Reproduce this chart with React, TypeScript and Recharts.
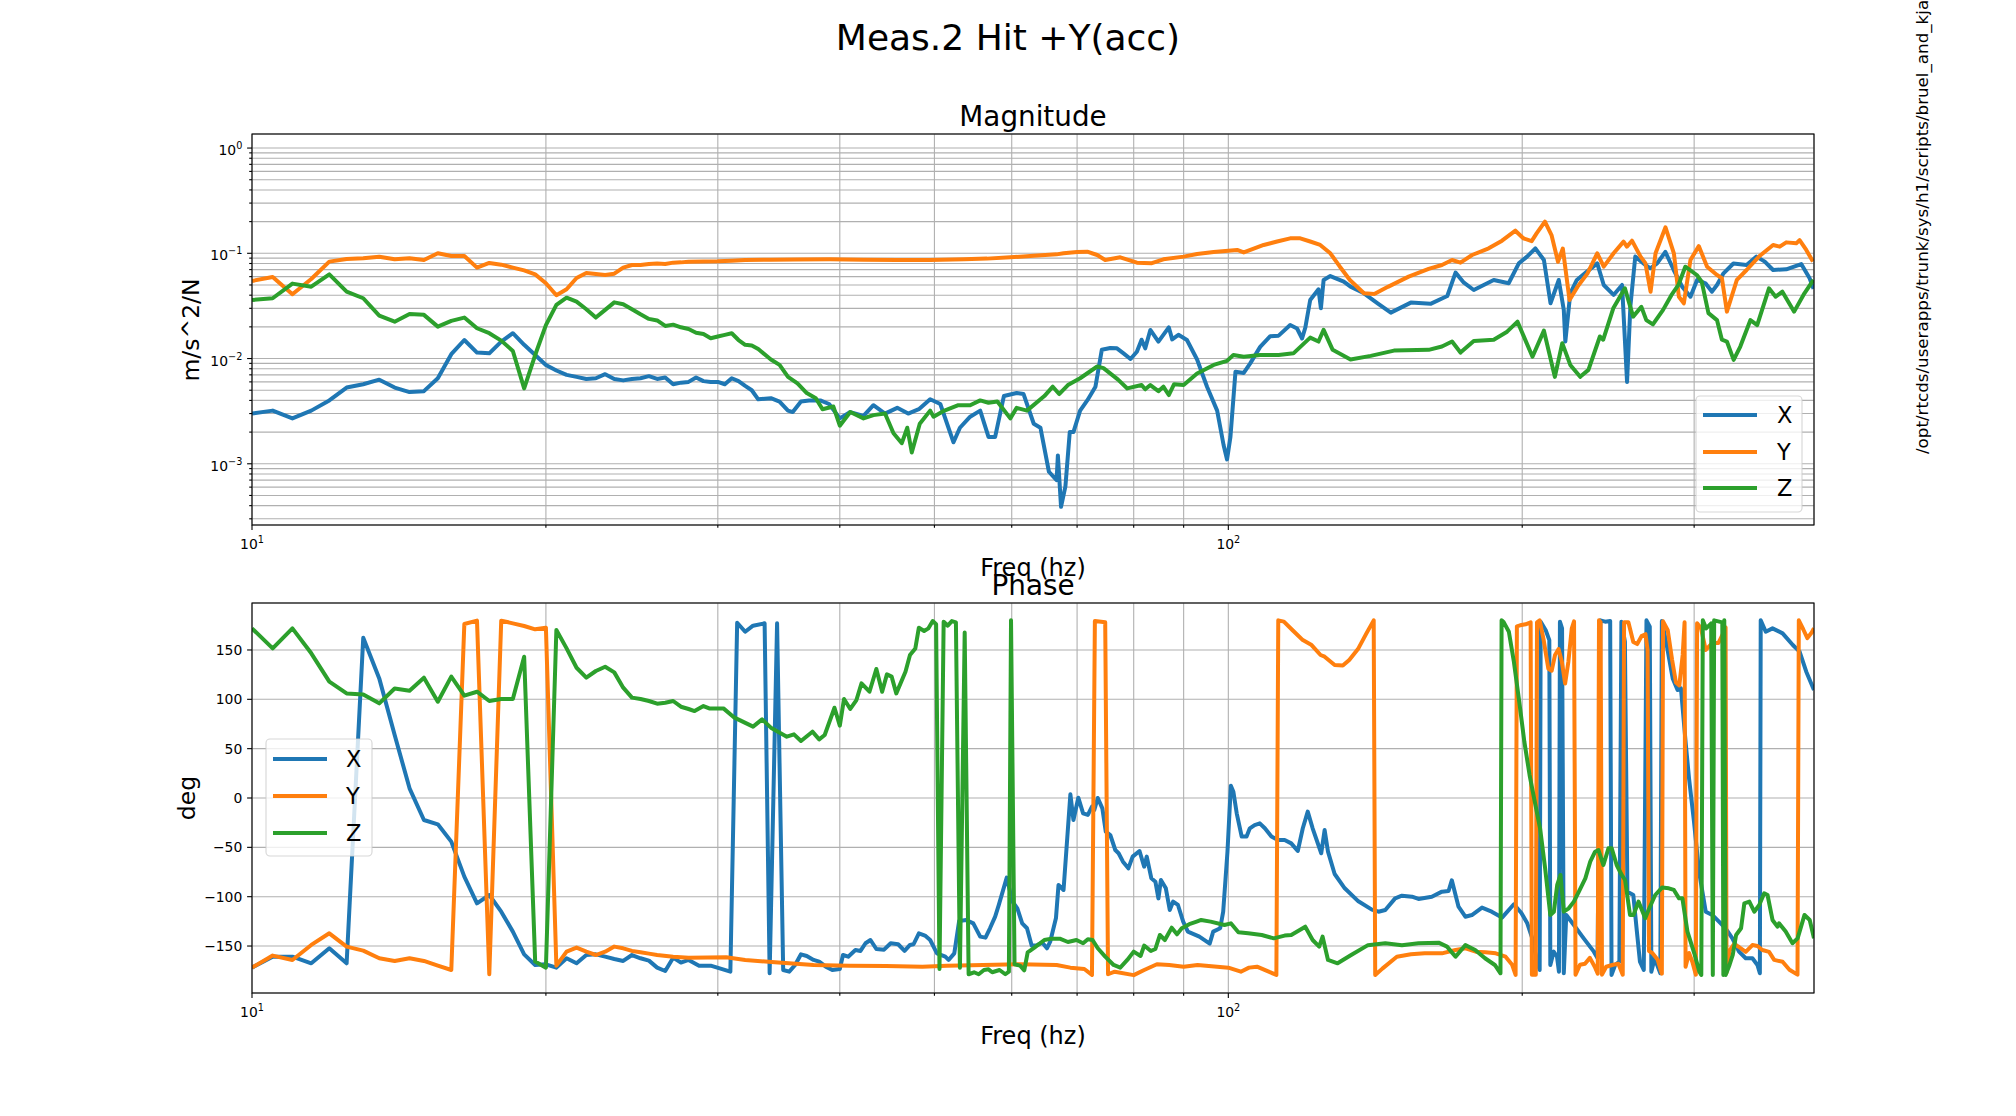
import React from 'react';
import { LineChart, Line, XAxis, YAxis, CartesianGrid } from 'recharts';

const FONT = '"DejaVu Sans", sans-serif';
const BLUE = '#1f77b4';
const ORANGE = '#ff7f0e';
const GREEN = '#2ca02c';

// ticks
const freqTicks = [10, 20, 30, 40, 50, 60, 70, 80, 90, 100, 200, 300];
const magTicks = [
  0.0003, 0.0004, 0.0005, 0.0006, 0.0007, 0.0008, 0.0009,
  0.001, 0.002, 0.003, 0.004, 0.005, 0.006, 0.007, 0.008, 0.009,
  0.01, 0.02, 0.03, 0.04, 0.05, 0.06, 0.07, 0.08, 0.09,
  0.1, 0.2, 0.3, 0.4, 0.5, 0.6, 0.7, 0.8, 0.9, 1,
];
const phaseTicks = [-150, -100, -50, 0, 50, 100, 150];

// magnitude, [freq Hz, m/s^2/N]
const magX: [number, number][] = [
  [10, 0.003], [10.5, 0.0032], [11, 0.0027], [11.5, 0.0032], [12, 0.004], [12.5, 0.0053], [13, 0.0057],
  [13.5, 0.0063], [14, 0.0053], [14.5, 0.0048], [15, 0.0049], [15.5, 0.0065], [16, 0.011], [16.5, 0.015],
  [17, 0.0114], [17.5, 0.0112], [18, 0.0145], [18.5, 0.0174], [19, 0.0135], [19.5, 0.0108], [20, 0.0087],
  [20.5, 0.0077], [21, 0.007], [21.5, 0.0067], [22, 0.0064], [22.5, 0.0065], [23, 0.0071], [23.5, 0.0064],
  [24, 0.0062], [24.5, 0.0064], [25, 0.0065], [25.5, 0.0068], [26, 0.0064], [26.5, 0.0066], [27, 0.0057],
  [27.5, 0.0059], [28, 0.006], [28.5, 0.0066], [29, 0.0061], [29.5, 0.006], [30, 0.006], [30.5, 0.0057],
  [31, 0.0065], [31.5, 0.0061], [32, 0.0055], [32.5, 0.005], [33, 0.0041], [34, 0.0042], [34.7, 0.0039],
  [35.4, 0.0032], [35.8, 0.0031], [36.5, 0.0039], [37.2, 0.004], [38.2, 0.004], [39, 0.0037], [40, 0.0027],
  [41, 0.0031], [42.3, 0.00285], [43.3, 0.0036], [44.5, 0.003], [45.8, 0.0034], [47, 0.003], [48.2, 0.0033],
  [49.5, 0.0041], [50.7, 0.0037], [52.3, 0.0016], [53.1, 0.0022], [54.4, 0.0028], [55.7, 0.0032],
  [56.8, 0.0018], [57.7, 0.0018], [58.9, 0.0044], [60.7, 0.0047], [61.7, 0.0046], [63.2, 0.0024],
  [64.2, 0.0022], [65.5, 0.00084], [66.7, 0.0007], [66.9, 0.0012], [67.4, 0.00039], [68.1, 0.00061],
  [68.8, 0.002], [69.4, 0.002], [70.5, 0.0032], [71.7, 0.004], [73.1, 0.0054], [74.2, 0.0121],
  [75.7, 0.0126], [76.9, 0.0125], [78.1, 0.0112], [79.4, 0.0099], [80.6, 0.0116], [81.5, 0.0151],
  [82.2, 0.0125], [83.2, 0.0187], [84.8, 0.0145], [86.9, 0.0198], [87.6, 0.0152], [88.9, 0.0168],
  [90.7, 0.015], [92.9, 0.0098], [95.1, 0.0054], [97.4, 0.0032], [98.9, 0.0015], [99.7, 0.0011],
  [100.5, 0.0018], [101.7, 0.0075], [103.7, 0.0073], [105.3, 0.009], [107.8, 0.0129], [110.4, 0.0163],
  [112.6, 0.0165], [115.7, 0.0208], [117.6, 0.0193], [119, 0.0155], [119.9, 0.0196], [121.3, 0.036],
  [123.7, 0.0455], [124.4, 0.03], [125.2, 0.0557], [127.2, 0.0608], [131.3, 0.0538], [133.4, 0.0482],
  [137.7, 0.0417], [142.2, 0.0335], [146.7, 0.0273], [153.8, 0.034], [161.1, 0.0331], [167.6, 0.0393],
  [170.9, 0.0655], [174.3, 0.0526], [178.4, 0.0448], [187, 0.0558], [193.7, 0.0519], [198.4, 0.0803],
  [202.3, 0.0929], [206.3, 0.1115], [210.5, 0.0863], [213.8, 0.0335], [218, 0.0558], [220.6, 0.029],
  [221.4, 0.0145], [224, 0.0417], [227.5, 0.0558], [233, 0.067], [238.7, 0.0802], [242.4, 0.05],
  [248.1, 0.0402], [253.1, 0.05], [256.1, 0.006], [258.1, 0.0311], [261.1, 0.093], [267.4, 0.0774],
  [270.6, 0.072], [274.9, 0.0802], [280.3, 0.103], [285.9, 0.0694], [291.6, 0.0482], [297.4, 0.0387],
  [302.1, 0.0558], [308.1, 0.0519], [312.9, 0.0432], [316.6, 0.05], [321.5, 0.0645], [329.1, 0.08],
  [339.5, 0.0774], [347.5, 0.093], [354.4, 0.0833], [361.4, 0.0694], [372.8, 0.0705], [386.2, 0.0791],
  [393.9, 0.058], [397.6, 0.046],
];

const magY: [number, number][] = [
  [10, 0.0546], [10.5, 0.0596], [11, 0.0408], [11.5, 0.057], [12, 0.0833], [12.5, 0.0883], [13, 0.0896],
  [13.5, 0.0929], [14, 0.0877], [14.5, 0.0896], [15, 0.0863], [15.5, 0.1], [16, 0.0942], [16.5, 0.0942],
  [17, 0.0731], [17.5, 0.081], [18, 0.078], [18.5, 0.0731], [19, 0.0689], [19.5, 0.063], [20, 0.0519],
  [20.5, 0.0399], [21, 0.0455], [21.5, 0.0582], [22, 0.065], [22.5, 0.0636], [23, 0.0622], [23.5, 0.064],
  [24, 0.0731], [24.5, 0.0774], [25, 0.0774], [25.5, 0.0791], [26, 0.0799], [26.5, 0.0791], [27, 0.0815],
  [27.5, 0.082], [28, 0.0833], [29, 0.0836], [30, 0.0839], [31, 0.085], [32, 0.0865], [34, 0.087],
  [36, 0.0875], [39.1, 0.0877], [42.3, 0.087], [45.8, 0.0865], [49.5, 0.0865], [53.6, 0.0877],
  [56.6, 0.089], [59.8, 0.0916], [63.2, 0.0947], [66.7, 0.0977], [67.8, 0.1], [70, 0.1028], [71.7, 0.1035],
  [73.4, 0.0963], [74.8, 0.0865], [77.5, 0.0916], [80.6, 0.0815], [83.5, 0.0806], [85.8, 0.0877],
  [90, 0.093], [92.9, 0.0984], [96.6, 0.103], [102.1, 0.1075], [103.7, 0.1019], [108.7, 0.12],
  [112.2, 0.1294], [115.7, 0.1387], [118.5, 0.1387], [121.3, 0.1294], [124.2, 0.12], [127.2, 0.1],
  [130.1, 0.0746], [133.2, 0.0558], [137.7, 0.0417], [141.1, 0.041], [145.7, 0.048], [153, 0.06],
  [160.4, 0.071], [165.5, 0.0774], [169.5, 0.0863], [172.9, 0.0815], [177.7, 0.0963], [184.8, 0.1115],
  [190.7, 0.1318], [196.8, 0.164], [200.5, 0.139], [204.5, 0.1306], [206.9, 0.1548], [211, 0.2],
  [214.3, 0.1492], [217.6, 0.0832], [220.1, 0.111], [223.6, 0.036], [227.9, 0.0482], [233.3, 0.0645],
  [238.7, 0.1], [242.4, 0.0746], [248.1, 0.1], [254, 0.129], [256, 0.1156], [259.1, 0.1318],
  [264.4, 0.093], [267.4, 0.0806], [270.7, 0.0432], [273.9, 0.1], [280.4, 0.1766], [286, 0.1],
  [289.4, 0.0387], [292.8, 0.0335], [297.4, 0.0863], [303.3, 0.117], [309.3, 0.0746], [316.6, 0.0622],
  [320.3, 0.058], [324.1, 0.0279], [331.8, 0.0558], [339.5, 0.0694], [350.3, 0.0948], [361.4, 0.12],
  [367.1, 0.1156], [372.8, 0.127], [381.7, 0.1243], [384.7, 0.1334], [390.8, 0.1075], [397, 0.0834],
];

const magZ: [number, number][] = [
  [10, 0.036], [10.5, 0.0374], [11, 0.0515], [11.5, 0.0482], [12, 0.063], [12.5, 0.0432], [13, 0.0374],
  [13.5, 0.0256], [14, 0.0224], [14.5, 0.0265], [15, 0.026], [15.5, 0.0201], [16, 0.0228], [16.5, 0.0245],
  [17, 0.0194], [17.5, 0.0174], [18, 0.0148], [18.5, 0.0118], [19, 0.0052], [19.5, 0.0108], [20, 0.0208],
  [20.5, 0.0323], [21, 0.0379], [21.5, 0.0347], [22, 0.0294], [22.5, 0.0245], [23, 0.029], [23.5, 0.0342],
  [24, 0.0328], [24.5, 0.0294], [25, 0.0263], [25.5, 0.0238], [26, 0.023], [26.5, 0.0204], [27, 0.021],
  [27.5, 0.0198], [28, 0.0191], [28.5, 0.0176], [29, 0.0171], [29.5, 0.0156], [30, 0.0162], [30.5, 0.0168],
  [31, 0.0174], [31.5, 0.015], [32, 0.0135], [32.5, 0.0133], [33, 0.0123], [34, 0.0098], [34.7, 0.0087],
  [35.4, 0.0067], [36.2, 0.0058], [37, 0.0047], [37.8, 0.0042], [38.4, 0.0033], [39.4, 0.0035],
  [40, 0.0023], [41, 0.0031], [42.3, 0.0027], [43.3, 0.0029], [44.5, 0.003], [45.4, 0.00195],
  [46.3, 0.00157], [46.9, 0.0022], [47.4, 0.00128], [48.3, 0.0024], [49.5, 0.0032], [49.9, 0.0028],
  [51.2, 0.0032], [52.9, 0.0036], [54.4, 0.0036], [55.7, 0.004], [56.8, 0.0038], [58, 0.0039],
  [59.8, 0.0027], [60.7, 0.0034], [62.2, 0.0032], [64.8, 0.0044], [66.1, 0.0054], [67.1, 0.0046],
  [68.5, 0.0056], [70.5, 0.0065], [73.4, 0.0084], [74.5, 0.0081], [77.1, 0.0063], [78.8, 0.0052],
  [81.5, 0.0056], [82.2, 0.0051], [83.2, 0.0056], [84.8, 0.0049], [85.8, 0.0054], [86.9, 0.0045],
  [88, 0.0057], [90, 0.0056], [92.9, 0.0072], [96.6, 0.0087], [99.7, 0.0095], [101.2, 0.0108],
  [103.7, 0.0104], [107.8, 0.0108], [112.6, 0.0108], [116.6, 0.0112], [121.3, 0.0158], [123.7, 0.0145],
  [125.2, 0.0187], [127.9, 0.0121], [133.4, 0.0098], [139.9, 0.0106], [147.8, 0.0119], [160.4, 0.0121],
  [165.5, 0.013], [169.5, 0.0145], [172.9, 0.0114], [178.4, 0.0147], [187, 0.0151], [193, 0.018],
  [197.8, 0.0224], [204.9, 0.0104], [210.5, 0.0184], [216, 0.0067], [219.8, 0.014], [224, 0.0087],
  [229.3, 0.0067], [233.8, 0.0078], [240.2, 0.0162], [242.1, 0.0151], [247.9, 0.03], [254.8, 0.0465],
  [259.8, 0.025], [264.9, 0.031], [268, 0.0232], [272.2, 0.0211], [278.8, 0.029], [284.3, 0.04],
  [289.1, 0.05], [293.8, 0.0746], [301.9, 0.0622], [305.4, 0.0538], [310.3, 0.027], [316.6, 0.0232],
  [320.3, 0.0151], [324.1, 0.0145], [329.3, 0.0097], [334.5, 0.013], [342.6, 0.0232], [348.1, 0.0208],
  [357.9, 0.0465], [363.6, 0.0387], [369.4, 0.0432], [379.8, 0.0279], [389.1, 0.0417], [397.5, 0.0558],
];

// phase, [freq Hz, deg]
const phaseX: [number, number][] = [
  [10, -171.9], [10.5, -160.8], [11, -160.8], [11.5, -167.5], [12, -152.3], [12.5, -167.5], [13, 162.4],
  [13.5, 121.2], [14, 63.8], [14.5, 9.8], [15, -22.3], [15.5, -26.7], [16, -44.2], [16.5, -79.7],
  [17, -106.7], [17.5, -98.3], [18, -115.2], [18.5, -135.4], [19, -158.4], [19.5, -169.2], [20, -168.5],
  [20.5, -171.9], [21, -162.4], [21.5, -167.5], [22, -159.1], [22.5, -158.4], [23, -160.8], [23.5, -163.1],
  [24, -165.1], [24.5, -159.1], [25, -162.4], [25.5, -164.8], [26, -171.9], [26.5, -175.3], [27, -161.8],
  [27.5, -166.8], [28, -164.1], [28.7, -169.9], [29.5, -169.9], [30.9, -176], [31.4, 177.6], [32, 168.5],
  [32.6, 174.6], [33.5, 177], [33.9, -177.6], [34.5, 177], [35, -174.3], [35.5, -176], [36, -169.2],
  [36.5, -158.4], [37, -160.1], [37.6, -164.1], [38.1, -165.8], [38.7, -170.9], [39.3, -174.3],
  [40, -173.3], [40.3, -159.1], [40.8, -160.8], [41.5, -154], [42, -155], [42.5, -147.2], [43, -143.9],
  [43.6, -153], [44.4, -153.7], [45.1, -147.2], [45.9, -148.2], [46.6, -154.9], [47.2, -148.9],
  [47.6, -148.2], [48.2, -137.1], [48.9, -139.4], [49.5, -143.9], [50.3, -157.4], [51.3, -160.8],
  [51.7, -164.1], [52.4, -157.4], [53, -124.6], [53.9, -123.6], [54.8, -127], [55.7, -140.5],
  [56.4, -141.5], [57, -132], [57.7, -120.2], [58.2, -108.4], [59.3, -80.7], [60.1, -105], [60.8, -111.8],
  [61.5, -127], [62.2, -132], [62.9, -149.8], [63.7, -149.1], [64.5, -146.6], [65.2, -152.3],
  [65.7, -145.6], [66.6, -121.6], [67, -88.1], [67.8, -93.2], [68.9, 3.7], [69.4, -22.3], [70.2, 0.3],
  [71, -15.5], [71.8, -17.2], [72.5, -8.8], [72.9, -12.2], [73.5, 0], [74.3, -10.5], [74.9, -34.1],
  [75.7, -37.5], [76.6, -52.7], [77.2, -56], [78, -64.5], [79, -71.3], [79.8, -59.4], [81.1, -53.7],
  [82, -69.6], [82.5, -59.4], [83.4, -81.4], [84.2, -84.8], [84.8, -101.7], [85.3, -83.1], [86.3, -91.5],
  [87.1, -113.5], [87.8, -105], [88.8, -108.4], [89.9, -125.3], [90.9, -135.4], [93.4, -140.5],
  [95.7, -147.5], [96.5, -135.4], [98.1, -132], [98.8, -115.2], [99.8, -54.4], [100.6, 12.5],
  [101.2, 6.4], [102, -15.5], [103.2, -39], [104.4, -39], [105.2, -30.7], [106.4, -27.4], [107.7, -25.7],
  [109, -30.7], [110.7, -39], [112.4, -42.6], [114.2, -42.6], [116, -46], [117.8, -53.7], [119.2, -30.7],
  [120.6, -13.8], [122, -30.7], [124.5, -56], [125.5, -32.4], [126.5, -54.4], [128.5, -77], [131.6, -91.5],
  [135.9, -104.7], [140.3, -113.1], [142.5, -115.2], [144.8, -113.5], [148.2, -101.7], [150.6, -99],
  [154.2, -100], [156.6, -102.3], [161.6, -100], [165.5, -94.9], [168.1, -94.2], [169.4, -83.4],
  [172.1, -110.1], [174.9, -120.3], [177.6, -118.6], [181.9, -111.1], [186.1, -115.2], [190.7, -121.2],
  [196.1, -107.7], [199.6, -116.6], [202.4, -127], [204.8, -142.2], [207.1, -165.8], [208.4, -174.3],
  [208.9, 178.7], [211.4, 170], [213.2, 160], [213.7, -169.2], [215.4, -155.7], [217.1, -160.8],
  [218.1, -176], [218.6, 178.7], [219.7, 171.9], [220.6, -177.6], [221.9, -118.5], [225.9, -128.7],
  [231.2, -142.2], [236.8, -155.7], [238.9, -162.4], [240.5, 180], [243.2, 178.7], [246.1, 179.3],
  [246.9, -179.3], [249, -169.2], [251.5, -165.8], [252.7, 178.7], [254.8, 158.4], [256.3, -94.9],
  [259.9, -98.3], [261.9, -132], [264, -165.8], [266.4, -174.3], [268.1, 180], [270.2, 173.6],
  [271.2, -176], [273.3, -162.4], [277, -177.6], [278, 179.3], [280.8, 158.4], [285.2, 121.2],
  [288.5, 109.4], [290.8, 111.1], [294.2, 53.7], [296.4, 19.9], [299.9, -24], [303.5, -74.6],
  [308.3, -115.2], [313.1, -118.5], [318.1, -125.3], [323.1, -132], [328.3, -142.2], [333.5, -155.7],
  [338.8, -162.4], [344.2, -162.4], [348.3, -169.2], [350.3, -177.6], [351, 180], [355.2, 168.5],
  [360.9, 171.9], [369.6, 166.8], [378.6, 155], [384.7, 148.3], [390.8, 128], [398, 109.4],
];

const phaseY: [number, number][] = [
  [10, -171.9], [10.5, -159.7], [11, -164.1], [11.5, -148.9], [12, -137.1], [12.5, -150.6], [13, -154.7],
  [13.5, -162.4], [14, -165.1], [14.5, -162.4], [15, -165.1], [15.5, -169.9], [16, -174.3], [16.5, 176.3],
  [17, 179.7], [17.5, -178.6], [18, 179.7], [18.5, 177], [19, 174.3], [19.5, 170.9], [20, 172.6],
  [20.5, -169.9], [21, -155.7], [21.5, -151.6], [22, -155.7], [22.5, -159.1], [23, -155.7], [23.5, -150.6],
  [24, -152.3], [24.5, -155], [25, -156.4], [25.5, -157.7], [26, -159.1], [27, -160.8], [28, -161.8],
  [30.6, -161.4], [32, -164.1], [34.6, -166.8], [37.6, -169.2], [40.9, -169.9], [44.6, -170.2],
  [48.6, -170.9], [51.5, -169.9], [56.1, -169.2], [61.2, -168.5], [66.7, -169.2], [68.9, -171.9],
  [71.2, -173.3], [72.5, -179.3], [73, 179.3], [74.8, 178], [75.3, -178.6], [76.5, -176], [80, -179.5],
  [82, -174.3], [84.5, -168.5], [87, -169.2], [90, -170.9], [93, -169.2], [100, -171.9], [103, -176],
  [105, -171.9], [107, -170.9], [110, -176], [112, -179.3], [112.5, 180], [114, 178.7], [116.3, 170.2],
  [119.2, 160], [121.7, 155], [124.3, 144.9], [125.5, 143.2], [128.5, 134.8], [131, 134.2], [133, 139.9],
  [135.9, 151.6], [138.5, 166.8], [140.9, 180], [141.4, -179.3], [143.8, -172.9], [148.8, -160.8],
  [153.8, -158.4], [158.9, -157.4], [165.5, -157.4], [170.9, -154], [175, -152.3], [179.2, -155.7],
  [183.4, -156.4], [187.9, -157.4], [192.3, -160.8], [195.3, -169], [196.9, -179.3], [197.5, 174],
  [199, 175], [201.6, 176], [204, 178], [204.6, -179], [206.5, -179], [207.1, 178], [208.4, 180],
  [210.3, 161], [212.7, 131], [214.4, 129], [216.1, 145], [217.9, 151], [219.6, 138], [221.3, 116],
  [223, 138], [224.8, 172], [226, 179], [226.8, -179], [229.2, -169], [231.9, -168], [234.6, -162],
  [237.3, -171], [239, -178], [239.7, 180], [240.6, 178], [241.4, -179], [243.8, -171], [247.8, -169],
  [250.9, -168], [253.5, -179], [254.3, 178], [256.9, 178], [259.9, 158], [262.3, 156], [265, 164],
  [267.5, 166], [268.8, 150], [269.7, -155], [271.8, -157], [275.3, -164], [278, -178], [278.8, 179],
  [281.9, 170], [284.8, 140], [287.4, 117], [289.7, 114], [292, 145], [293.3, 178], [294, -171],
  [296.4, -157], [298.7, -166], [301.2, -179], [302.1, 177], [304.9, 172], [308.3, 150], [313.1, 157],
  [317.6, 157], [320.6, 165], [323.1, 173], [323.8, -177], [326, -155], [329.6, -148], [333.5, -151],
  [338.8, -156], [344.2, -149], [348.3, -150], [352.4, -154], [358, -156], [362.3, -164], [369.6, -166],
  [375.6, -174], [382.8, -179], [384, 180], [388, 171], [391.8, 162], [396, 168], [398, 172],
];

const phaseZ: [number, number][] = [
  [10, 171.9], [10.5, 151.6], [11, 171.9], [11.5, 146.6], [12, 117.9], [12.5, 106], [13, 105],
  [13.5, 95.9], [14, 111], [14.5, 108.7], [15, 121.9], [15.5, 97.6], [16, 123], [16.5, 103.7],
  [17, 107.7], [17.5, 98.3], [18, 100.3], [18.5, 100.3], [19, 143.2], [19.5, -165.8], [20, -171.9],
  [20.5, 170.2], [21, 151.6], [21.5, 132], [22, 121.9], [22.5, 128.7], [23, 133], [23.5, 127.3],
  [24, 111.8], [24.5, 101.7], [25, 100.3], [25.5, 98.3], [26, 95.6], [26.5, 96.6], [27, 98.3],
  [27.5, 92.5], [28, 90.2], [28.4, 88.1], [29, 93.2], [29.4, 90.8], [30.4, 90.8], [31.2, 81.4],
  [32.6, 72.3], [33.3, 79.7], [34, 71.3], [35.3, 62.1], [35.9, 64.5], [36.5, 57.8], [37.5, 67.2],
  [38.1, 59.4], [38.6, 63.8], [39.5, 91.5], [40, 73.3], [40.4, 100.3], [41, 90.2], [41.6, 99.3],
  [42.1, 116.2], [42.9, 107.7], [43.6, 130.7], [44.2, 107.7], [44.7, 125.3], [45.2, 123], [45.7, 106],
  [46.7, 128], [47.2, 144.9], [47.8, 151.6], [48.2, 172.6], [48.8, 169.2], [49.3, 171.9], [49.8, 179.3],
  [50.2, 176], [50.6, -173.3], [51.1, 178.7], [51.6, 174.6], [52.1, 179.3], [52.6, 178], [53.1, -171.9],
  [53.7, 167.8], [54.2, -178.6], [54.9, -176.6], [55.5, -178.6], [56.2, -174.3], [56.8, -173.6],
  [57.3, -176.6], [58.3, -174.3], [59.1, -178.6], [59.6, -176], [59.9, 180], [60.4, -168.5],
  [61.2, -169.9], [61.8, -174.6], [62.3, -156.4], [63.3, -151.6], [64.8, -143.9], [65.9, -142.5],
  [67.2, -142.5], [68.5, -145.9], [69.9, -143.9], [71, -147.2], [71.8, -143.2], [72.6, -143.9],
  [73.5, -152.3], [74.8, -160.8], [76.3, -169.2], [77.5, -171.9], [78.8, -164.1], [80, -155.7],
  [81.3, -160.1], [82, -149.5], [83.3, -155], [84.2, -153], [85.1, -138.8], [86.1, -143.9],
  [87.5, -131.4], [88.6, -138.1], [89.6, -132], [91.2, -127.9], [92.8, -125.3], [93.8, -123.6],
  [95.9, -125.3], [99.1, -128.7], [100.6, -127], [102.4, -136.1], [104.8, -137.1], [108.2, -138.8],
  [111.3, -142.2], [114.2, -139.4], [116, -138.8], [119.9, -130.4], [122, -143.9], [123.9, -150.6],
  [124.9, -140.5], [126.5, -164.1], [129.4, -167.5], [133.6, -159.1], [139, -149.1], [144.8, -147.2],
  [150.6, -149.1], [156.6, -147.2], [164.2, -146.6], [167.5, -150.6], [170.9, -160.8], [174.9, -149.1],
  [179, -154], [183.2, -162.4], [187.5, -169.2], [190, -177.6], [190.5, 180], [191.5, 178],
  [193.8, 168.5], [196.1, 138.1], [198.6, 97.6], [201, 57.1], [203.5, 23.3], [206, -3.7], [208.6, -30.7],
  [211.1, -71.3], [213.7, -118.5], [215.5, -115.2], [217.2, -88.1], [218.9, -78], [220.6, -115.2],
  [223.2, -111.8], [225.9, -105], [228.6, -94.9], [232.1, -81.4], [234.8, -64.5], [237.5, -54.4],
  [239.4, -52.7], [242.2, -67.9], [245.1, -51], [247, -51], [249.9, -67.9], [252.9, -78], [254.9, -83.1],
  [257.9, -118.5], [260, -118.5], [263.1, -105], [267.3, -121.9], [269.4, -113.5], [273.7, -98.3],
  [278.1, -90.8], [282.6, -91.5], [286, -93.2], [289.5, -101.7], [291.8, -101.7], [295.3, -135.4],
  [300.1, -157.4], [303.7, -176], [305.1, -179.3], [306.2, 180], [308.6, 171.9], [312.3, 177],
  [313.5, -179.3], [314.5, 180], [320.6, 178], [321.4, -179.3], [322.1, 180], [323.1, -179.3],
  [326.1, -169.2], [328.6, -159], [331.2, -138.8], [335.1, -132], [337.7, -106.7], [341.7, -105],
  [345.7, -115.2], [349.8, -108.4], [353.9, -96.6], [356.7, -98.3], [360.9, -123.6], [365.1, -130.4],
  [366.5, -127], [372.3, -135.4], [378.3, -147.2], [382.9, -142.2], [389.2, -118.5], [394, -123.6],
  [398, -142.2],
];

const rows = (pts: [number, number][]) => pts.map(([f, v]) => ({ f, v }));

const TICK_FS = 13.9;
const SUP_FS = 9.7;

function FreqTick(props: any) {
  const { x, y, payload } = props;
  const v = payload.value as number;
  const major = v === 10 || v === 100;
  return (
    <g>
      <line x1={x} x2={x} y1={y} y2={y + (major ? 4.9 : 2.8)} stroke="#000" strokeWidth={1.1} />
      {major && (
        <text x={x} y={y + 23.5} textAnchor="middle" fontFamily={FONT} fontSize={TICK_FS} fill="#000">
          10<tspan dy={-6} fontSize={SUP_FS}>{Math.round(Math.log10(v))}</tspan>
        </text>
      )}
    </g>
  );
}

function MagTick(props: any) {
  const { x, y, payload } = props;
  const v = payload.value as number;
  const e = Math.log10(v);
  const major = Math.abs(e - Math.round(e)) < 1e-6;
  const exp = Math.round(e);
  return (
    <g>
      <line x1={x - (major ? 4.9 : 2.8)} x2={x} y1={y} y2={y} stroke="#000" strokeWidth={1.1} />
      {major && (
        <text x={x - 9.7} y={y + 7} textAnchor="end" fontFamily={FONT} fontSize={TICK_FS} fill="#000">
          10<tspan dy={-6} fontSize={SUP_FS}>{exp < 0 ? `\u2212${-exp}` : `${exp}`}</tspan>
        </text>
      )}
    </g>
  );
}

function PhaseTick(props: any) {
  const { x, y, payload } = props;
  const v = payload.value as number;
  return (
    <g>
      <line x1={x - 4.9} x2={x} y1={y} y2={y} stroke="#000" strokeWidth={1.1} />
      <text x={x - 9.7} y={y + 5} textAnchor="end" fontFamily={FONT} fontSize={TICK_FS} fill="#000">
        {v < 0 ? `\u2212${-v}` : `${v}`}
      </text>
    </g>
  );
}

function LegendBox({ x, y, w, h, lineX, textX, rowY }: any) {
  const items = [
    { label: 'X', color: BLUE },
    { label: 'Y', color: ORANGE },
    { label: 'Z', color: GREEN },
  ];
  return (
    <g>
      <rect x={x} y={y} width={w} height={h} rx={4} ry={4} fill="#fff" fillOpacity={0.8} stroke="#cccccc" strokeOpacity={0.8} strokeWidth={1.1} />
      {items.map((it, i) => (
        <g key={it.label}>
          <line x1={lineX} x2={lineX + 54} y1={rowY[i]} y2={rowY[i]} stroke={it.color} strokeWidth={4} />
          <text x={textX} y={rowY[i] + 8} fontFamily={FONT} fontSize={22.5} fill="#000">
            {it.label}
          </text>
        </g>
      ))}
    </g>
  );
}

const lineProps = {
  dataKey: 'v',
  type: 'linear' as const,
  dot: false,
  strokeWidth: 4,
  strokeLinejoin: 'round' as const,
  isAnimationActive: false,
};

export default function App() {
  return (
    <div style={{ position: 'absolute', left: 0, top: 0, width: 2016, height: 1116, background: '#fff' }}>
      <div style={{ position: 'absolute', left: 0, top: 0 }}>
        <LineChart width={2016} height={560} margin={{ top: 134, right: 202, bottom: 0, left: 0 }}>
          <CartesianGrid stroke="#b0b0b0" strokeWidth={1.1} />
          <XAxis
            dataKey="f"
            type="number"
            scale="log"
            domain={[10, 398]}
            allowDataOverflow
            ticks={freqTicks}
            interval={0}
            height={35}
            tickSize={0}
            tickMargin={0}
            tickLine={false}
            axisLine={false}
            tick={FreqTick}
          />
          <YAxis
            type="number"
            scale="log"
            domain={[0.000262, 1.36]}
            allowDataOverflow
            ticks={magTicks}
            interval={0}
            width={252}
            tickSize={0}
            tickMargin={0}
            tickLine={false}
            axisLine={false}
            tick={MagTick}
          />
          <Line {...lineProps} data={rows(magX)} name="X" stroke={BLUE} />
          <Line {...lineProps} data={rows(magY)} name="Y" stroke={ORANGE} />
          <Line {...lineProps} data={rows(magZ)} name="Z" stroke={GREEN} />
        </LineChart>
      </div>
      <div style={{ position: 'absolute', left: 0, top: 560 }}>
        <LineChart width={2016} height={556} margin={{ top: 43, right: 202, bottom: 0, left: 0 }}>
          <CartesianGrid stroke="#b0b0b0" strokeWidth={1.1} />
          <XAxis
            dataKey="f"
            type="number"
            scale="log"
            domain={[10, 398]}
            allowDataOverflow
            ticks={freqTicks}
            interval={0}
            height={123}
            tickSize={0}
            tickMargin={0}
            tickLine={false}
            axisLine={false}
            tick={FreqTick}
          />
          <YAxis
            type="number"
            domain={[-197.6, 197.6]}
            allowDataOverflow
            ticks={phaseTicks}
            interval={0}
            width={252}
            tickSize={0}
            tickMargin={0}
            tickLine={false}
            axisLine={false}
            tick={PhaseTick}
          />
          <Line {...lineProps} data={rows(phaseX)} name="X" stroke={BLUE} />
          <Line {...lineProps} data={rows(phaseY)} name="Y" stroke={ORANGE} />
          <Line {...lineProps} data={rows(phaseZ)} name="Z" stroke={GREEN} />
        </LineChart>
      </div>
      <svg
        width={2016}
        height={1116}
        style={{ position: 'absolute', left: 0, top: 0, pointerEvents: 'none' }}
        fontFamily={FONT}
      >
        <text x={1008} y={50} fontSize={36} textAnchor="middle" fill="#000">Meas.2 Hit +Y(acc)</text>
        <text x={1033} y={126} fontSize={27.8} textAnchor="middle" fill="#000">Magnitude</text>
        <text x={1033} y={576} fontSize={24} textAnchor="middle" fill="#000">Freq (hz)</text>
        <text x={1033} y={595} fontSize={27.8} textAnchor="middle" fill="#000">Phase</text>
        <text x={1033} y={1044} fontSize={24} textAnchor="middle" fill="#000">Freq (hz)</text>
        <text transform="translate(199,330) rotate(-90)" fontSize={23.5} textAnchor="middle" fill="#000">m/s^2/N</text>
        <text transform="translate(195,798) rotate(-90)" fontSize={23.5} textAnchor="middle" fill="#000">deg</text>
        <text transform="translate(1928,454) rotate(-90)" fontSize={16.7} fill="#000">
          /opt/rtcds/userapps/trunk/sys/h1/scripts/bruel_and_kjaer/
        </text>
        <rect x={252} y={134} width={1562} height={391} fill="none" stroke="#000" strokeWidth={1.1} />
        <rect x={252} y={603} width={1562} height={390} fill="none" stroke="#000" strokeWidth={1.1} />
        <LegendBox x={1696} y={396} w={106} h={116} lineX={1703} textX={1777} rowY={[415, 452, 488]} />
        <LegendBox x={266} y={739} w={106} h={117} lineX={273} textX={346} rowY={[759, 796, 833]} />
      </svg>
    </div>
  );
}
